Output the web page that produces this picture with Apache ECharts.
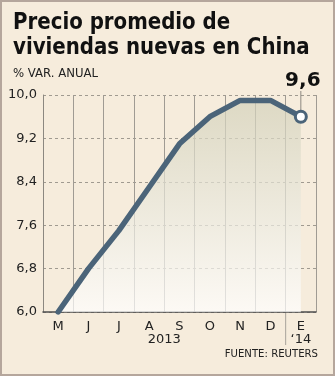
<!DOCTYPE html>
<html><head><meta charset="utf-8">
<script src="https://cdn.jsdelivr.net/npm/echarts@6/dist/echarts.min.js"></script>
<style>html,body{margin:0;padding:0;background:#f6ecdc}#c{width:335px;height:376px}</style>
</head><body><div id="c"></div>
<script>
const months = ['M','J','J','A','S','O','N','D','E'];
const values = [6.0, 6.8, 7.5, 8.3, 9.1, 9.6, 9.9, 9.9, 9.6];
const yTicks = [6.0, 6.8, 7.6, 8.4, 9.2, 10.0];
const yearLabels = ['2013', '\u201814'];
const titleLines = ['Precio promedio de', 'viviendas nuevas en China'];
const subtitle = '% VAR. ANUAL';
const source = 'FUENTE: REUTERS';
const lastLabel = '9,6';

const chart = echarts.init(document.getElementById('c'), null, {renderer:'canvas'});
const FONT = 'DejaVu Sans';
const option = {
  backgroundColor: '#f6ecdc',
  animation: false,
  grid: {left: 43, right: 19, top: 95, bottom: 64},
  xAxis: {
    type: 'category', data: months, boundaryGap: true,
    axisLine: {lineStyle: {color: '#4d4d4d', width: 1.5}},
    axisTick: {show: false},
    axisLabel: {color: '#222', fontSize: 13, fontFamily: FONT, margin: 8},
    splitLine: {show: true, lineStyle: {color: '#a09b93', width: 1}}
  },
  yAxis: {
    type: 'value', min: yTicks[0], max: yTicks[yTicks.length-1], interval: 0.8,
    axisLine: {show: true, lineStyle: {color: '#8c8880', width: 1}},
    axisTick: {show: false},
    axisLabel: {color: '#222', fontSize: 13, fontFamily: FONT, margin: 6,
      formatter: v => v.toFixed(1).replace('.', ',')},
    splitLine: {show: true, lineStyle: {color: '#a09a90', type: [3,3], width: 1}}
  },
  series: [{
    type: 'line', data: values, z: 5,
    lineStyle: {color: '#4b6479', width: 5.5, cap: 'round', join: 'round'},
    symbol: 'circle', symbolSize: (v, p) => p.dataIndex === values.length-1 ? 11 : 0,
    showSymbol: true,
    itemStyle: {color: '#ffffff', borderColor: '#4b6479', borderWidth: 3},
    areaStyle: {color: new echarts.graphic.LinearGradient(0,0,0,1,[
      {offset: 0, color: '#d3d1ba'}, {offset: 1, color: '#ffffff'}])}
  }]
};
chart.setOption(option);

const last = values.length - 1;
const pLast = chart.convertToPixel({gridIndex:0}, [last, values[last]]);
const pTop = chart.convertToPixel({gridIndex:0}, [last, yTicks[yTicks.length-1]]);
const pBottom = chart.convertToPixel({gridIndex:0}, [last, yTicks[0]]);
const pD = chart.convertToPixel({gridIndex:0}, [last-1, yTicks[0]]);
const sepX = (pLast[0] + pD[0]) / 2;
const pFirst = chart.convertToPixel({gridIndex:0}, [0, yTicks[0]]);
const yearX = (pFirst[0] + pD[0]) / 2;

chart.setOption({graphic: [
  {type:'rect', shape:{x:1, y:1, width:333, height:374}, style:{fill:'none', stroke:'#b5a69c', lineWidth:2}, z:100},
  {type:'text', left: 13, top: 11, style:{text: titleLines.join('\n'), font: 'bold 23px "DejaVu Sans"', fill:'#111', lineHeight: 25}, scaleX: 0.86},
  {type:'text', left: 13, top: 67, style:{text: subtitle, font: '13px "DejaVu Sans"', fill:'#222'}, scaleX: 0.9},
  {type:'text', x: pLast[0]+2, y: pTop[1]-4, style:{text: lastLabel, font: 'bold 20px "DejaVu Sans"', fill:'#111', align:'center', verticalAlign:'bottom'}},
  {type:'line', shape:{x1:pLast[0], y1:pTop[1]-4, x2:pLast[0], y2:pLast[1]}, style:{stroke:'#8c8880', lineWidth:1}, z:1},
  {type:'line', shape:{x1:sepX, y1:pBottom[1], x2:sepX, y2:pBottom[1]+33}, style:{stroke:'#a8a39b', lineWidth:1}},
  {type:'text', x: yearX, y: pBottom[1]+21, style:{text: yearLabels[0], font: '13px "DejaVu Sans"', fill:'#222', align:'center'}},
  {type:'text', x: pLast[0], y: pBottom[1]+21, style:{text: yearLabels[1], font: '13px "DejaVu Sans"', fill:'#222', align:'center'}},
  {type:'text', x: 318, y: 349, style:{text: source, font: '11px "DejaVu Sans"', fill:'#222', align:'right'}, scaleX: 0.92}
]});
</script></body></html>
